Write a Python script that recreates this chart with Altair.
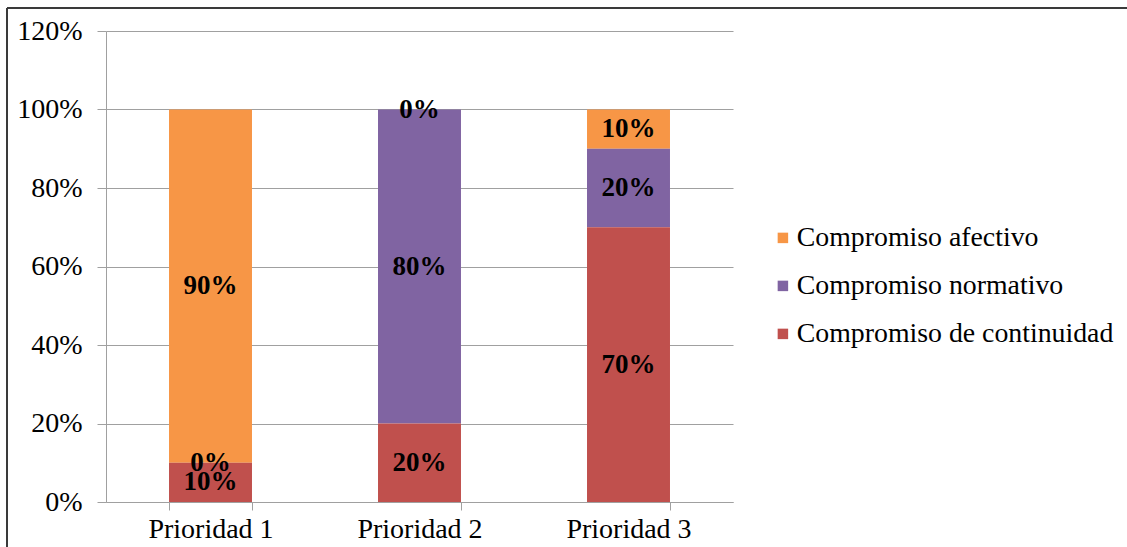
import altair as alt
import pandas as pd

# Categories and series (percent of respondents)
prioridades = ["Prioridad 1", "Prioridad 2", "Prioridad 3"]
series = ["Compromiso afectivo", "Compromiso normativo", "Compromiso de continuidad"]
colores = ["#F79646", "#8064A2", "#C0504D"]
afectivo = [90, 0, 10]
normativo = [0, 80, 20]
continuidad = [10, 20, 70]
y_ticks = [0, 20, 40, 60, 80, 100, 120]

# stacking order: continuidad at the bottom, afectivo on top
orden = {"Compromiso de continuidad": 0, "Compromiso normativo": 1, "Compromiso afectivo": 2}

rows = []
for serie, vals in zip(series, [afectivo, normativo, continuidad]):
    for p, v in zip(prioridades, vals):
        rows.append({"prioridad": p, "serie": serie, "valor": v, "orden": orden[serie]})
df = pd.DataFrame(rows)

FONT = "Liberation Serif"
GRID = "#a0a0a0"

base = alt.Chart(df).transform_stack(
    stack="valor",
    groupby=["prioridad"],
    as_=["y0", "y1"],
    sort=[alt.SortField("orden", order="ascending")],
).transform_calculate(
    mid="(datum.y0 + datum.y1) / 2",
    etiqueta="datum.valor + '%'",
)

x_enc = alt.X(
    "prioridad:N",
    sort=prioridades,
    title=None,
    scale=alt.Scale(paddingInner=0.603, paddingOuter=0.3015),
    axis=alt.Axis(
        labelAngle=0,
        labelFont=FONT,
        labelFontSize=28,
        labelColor="#000000",
        labelPadding=5,
        domainColor=GRID,
        tickColor=GRID,
        tickSize=8,
        tickBand="extent",
        grid=False,
    ),
)

bars = base.mark_bar().encode(
    x=x_enc,
    y=alt.Y(
        "y0:Q",
        title=None,
        scale=alt.Scale(domain=[0, 120], nice=False),
        axis=alt.Axis(
            values=y_ticks,
            labelExpr="datum.value + '%'",
            labelFont=FONT,
            labelFontSize=28,
            labelColor="#000000",
            labelPadding=15,
            domainColor=GRID,
            tickColor=GRID,
            tickSize=9,
            gridColor=GRID,
            gridWidth=1.2,
        ),
    ),
    y2="y1:Q",
    color=alt.Color(
        "serie:N",
        scale=alt.Scale(domain=series, range=colores),
        legend=alt.Legend(
            title=None,
            orient="none",
            legendX=663,
            legendY=193,
            symbolType="square",
            symbolSize=110,
            symbolStrokeWidth=0,
            labelFont=FONT,
            labelFontSize=27.8,
            labelColor="#000000",
            labelOffset=0,
            rowPadding=19,
            padding=0,
            labelLimit=400,
        ),
    ),
)

labels = base.mark_text(
    font=FONT, fontSize=27, fontWeight="bold", color="#000000", baseline="middle"
).encode(
    x=alt.X("prioridad:N", sort=prioridades),
    y="mid:Q",
    text="etiqueta:N",
)

# outer frame (top and left edges)
marco_top = alt.Chart(pd.DataFrame({"k": [0]})).mark_rule(
    color="#3a3a3a", strokeWidth=2
).encode(x=alt.value(-99), x2=alt.value(1021), y=alt.value(-23))
marco_left = alt.Chart(pd.DataFrame({"k": [0]})).mark_rule(
    color="#3a3a3a", strokeWidth=2
).encode(x=alt.value(-99), y=alt.value(-23), y2=alt.value(516))

chart = (
    alt.layer(bars, labels, marco_top, marco_left)
    .properties(
        width=627,
        height=471,
        autosize=alt.AutoSizeParams(type="none"),
        padding={"left": 106, "top": 31, "right": 394, "bottom": 45},
        background="#ffffff",
    )
    .configure_view(stroke=None)
)

chart.save("out.html", embed_options={"renderer": "svg", "actions": False})
